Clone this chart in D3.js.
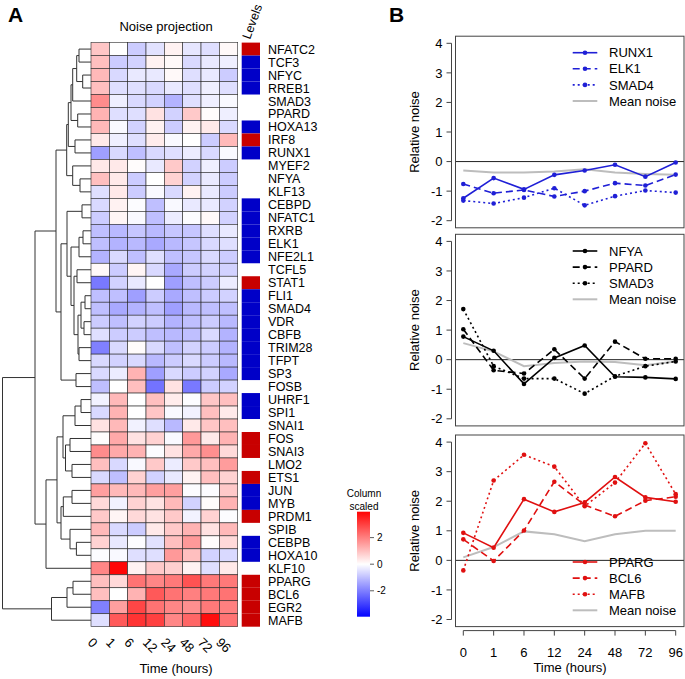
<!DOCTYPE html>
<html><head><meta charset="utf-8">
<script src="https://cdn.jsdelivr.net/npm/d3@7"></script>
<style>body{margin:0;background:#fff} svg{display:block} text{font-family:"Liberation Sans",Arial,Helvetica,sans-serif}</style>
</head><body><svg id="c" width="685" height="679"></svg>
<script>
// ---------------- DATA ----------------
const genes = ["NFATC2","TCF3","NFYC","RREB1","SMAD3","PPARD","HOXA13","IRF8","RUNX1","MYEF2","NFYA","KLF13","CEBPD","NFATC1","RXRB","ELK1","NFE2L1","TCFL5","STAT1","FLI1","SMAD4","VDR","CBFB","TRIM28","TFPT","SP3","FOSB","UHRF1","SPI1","SNAI1","FOS","SNAI3","LMO2","ETS1","JUN","MYB","PRDM1","SPIB","CEBPB","HOXA10","KLF10","PPARG","BCL6","EGR2","MAFB"];
const times = ["0","1","6","12","24","48","72","96"];
const levels = ["high","low","low","low","none","none","low","high","low","none","none","none","low","low","low","low","low","none","high","low","low","low","low","low","low","low","none","low","low","none","high","high","none","high","low","low","high","none","low","low","none","high","high","high","high"];
const noise = [
 [0.9,0,-0.8,-0.45,0.2,-0.4,-0.5,0.1],
 [1.0,-0.8,-0.7,0.2,0.1,-0.6,-0.35,-0.25],
 [1.1,-0.6,-0.35,-0.35,0.1,-0.5,-0.35,-0.8],
 [1.0,-0.5,-0.5,-0.6,-0.35,-0.5,-0.25,-0.5],
 [1.8,-0.25,-0.6,-0.7,-1.2,-0.5,-0.25,-0.1],
 [1.2,-0.5,-0.5,0.45,-0.7,0.85,0.05,-0.25],
 [1.1,-0.1,-0.7,0.2,-0.8,0.2,0.35,-0.6],
 [0.35,-0.25,-0.5,0.3,-0.1,0,-0.8,1.1],
 [-1.5,-0.6,-1.0,-0.6,-0.5,-0.3,-0.6,-0.1],
 [0.35,0.35,0.05,-0.35,0.85,-0.7,-0.25,-0.8],
 [1.0,0.35,-0.8,0,0.7,-0.7,-0.35,-0.8],
 [-0.5,0.35,-0.8,-0.1,-0.6,0.2,-0.35,-0.8],
 [-0.6,0.2,-0.05,-1.0,-0.1,-0.35,-0.35,-0.7],
 [-0.8,0.15,-0.1,-1.0,-0.3,-0.05,0.1,-0.7],
 [-1.0,-1.1,-0.9,-1.1,-0.9,-0.9,-0.5,-0.35],
 [-1.0,-1.2,-1.1,-1.35,-1.1,-0.9,-0.6,-0.5],
 [-1.2,-0.6,-1.0,-0.5,-1.0,-0.9,-0.6,-0.8],
 [0.1,-0.8,0.15,-0.6,-1.35,-0.8,-0.7,-0.7],
 [-2.1,-0.7,-0.35,0,-1.5,-1.0,-0.8,-0.3],
 [-1.0,-1.0,-1.5,-0.8,-1.35,-1.0,-0.8,-0.7],
 [-1.0,-1.35,-1.2,-1.0,-1.5,-1.1,-1.0,-1.0],
 [-0.8,-1.0,-0.7,-0.8,-1.2,-1.0,-0.8,-1.1],
 [-0.5,-0.8,-0.8,-1.0,-1.1,-1.0,-0.6,-1.2],
 [-2.0,-0.6,0.05,-0.6,-1.0,-0.7,-0.8,-1.2],
 [-0.6,-0.7,-0.6,-1.1,-0.8,-0.6,-0.8,-1.1],
 [-0.6,-0.3,1.2,-1.5,-0.6,-0.8,-0.7,-1.35],
 [-1.0,0,1.0,-2.2,0.45,-2.1,-0.8,-0.7],
 [-0.2,1.1,0,1.0,0.3,-0.05,0.9,1.0],
 [-0.6,1.2,0,0.9,-0.1,-0.2,1.0,0.35],
 [0.45,1.1,-0.2,-0.5,-1.1,0.35,0.9,1.0],
 [0.05,1.35,0.45,0.7,-0.1,1.6,0.35,1.2],
 [1.8,1.35,1.2,-0.05,0.45,1.35,1.75,0.6],
 [1.0,-0.6,-0.1,0.85,-0.3,0.85,1.0,1.55],
 [-0.6,-1.0,0.7,-0.7,-0.35,0.2,1.0,0.7],
 [1.5,1.1,1.1,1.5,1.5,-0.05,-0.05,0.85],
 [0.6,-0.2,0.7,0.45,1.1,-0.7,0.05,1.2],
 [0.85,0.15,0.6,0.45,0.85,-0.2,0.7,-0.05],
 [1.1,-0.6,-0.8,0.35,0.85,1.2,0.45,1.1],
 [0.7,-0.35,-0.05,-0.45,1.0,1.6,0.05,0.6],
 [-0.05,-0.1,-0.5,-0.5,1.6,1.0,-0.7,-0.6],
 [1.9,3.9,0.2,0.85,0.75,0.2,-0.5,0.35],
 [1.0,0.6,2.2,1.9,2.1,2.7,2.1,2.1],
 [1.0,0,1.2,2.6,2.2,2.0,2.1,2.2],
 [-2.0,1.5,2.9,2.2,1.9,1.75,2.1,2.0],
 [-0.5,2.6,3.2,3.0,1.9,2.4,3.8,2.2]
];
// dendrogram merge heights: [height, left, right]
const tree = [88.5,
  [56,
    [35,
      [24.3,
        [22.7,
          [20, [18.3, [14.3, [12,"NFATC2","TCF3"], [8.3,"NFYC","RREB1"]], "SMAD3"], [13.3,"PPARD","HOXA13"]],
          [16,"IRF8","RUNX1"]],
        [18.3,"MYEF2",[11,"NFYA","KLF13"]]],
      [30,
        [24, [9,"CEBPD","NFATC1"], [20, [12,[8,"RXRB","ELK1"],"NFE2L1"], [17,[14,"TCFL5","STAT1"],[13,[10,[6,"FLI1","SMAD4"],[7,"VDR","CBFB"]],[12,"TRIM28","TFPT"]]]]],
        [15,"SP3","FOSB"]]],
    [45,
      [34,
        [28,[16,[10,"UHRF1","SPI1"],"SNAI1"],[25.5,[21,"FOS","SNAI3"],[19,"LMO2","ETS1"]]],
        [30,[27.7,[19,"JUN","MYB"],"PRDM1"],[21,"SPIB",[14.6,"CEBPB","HOXA10"]]]],
      "KLF10"]],
  [39.5,[24,[18,"PPARG","BCL6"],"EGR2"],"MAFB"]];

const keyTicks = [-2,0,2];
const yTicks = [-2,-1,0,1,2,3,4];

const runx1 = [-1.24,-0.56,-0.94,-0.45,-0.30,-0.11,-0.51,-0.03];
const elk1  = [-0.76,-1.07,-0.96,-1.18,-1.00,-0.73,-0.81,-0.44];
const smad4 = [-1.32,-1.42,-1.22,-0.90,-1.48,-1.17,-0.98,-1.05];
const mean1 = [-0.30,-0.37,-0.37,-0.34,-0.26,-0.37,-0.42,-0.45];

const nfya  = [0.78,0.30,-0.82,0.06,0.48,-0.58,-0.60,-0.65];
const ppard = [1.03,-0.36,-0.47,0.35,-0.64,0.61,0.03,0.03];
const smad3 = [1.71,-0.22,-0.64,-0.64,-1.15,-0.56,-0.22,-0.06];
const mean2 = [0.56,0.28,-0.22,-0.11,-0.06,-0.08,-0.19,-0.06];

const pparg = [0.93,0.43,2.07,1.64,1.96,2.82,2.13,1.98];
const bcl6  = [0.71,-0.02,1.01,2.66,1.87,1.49,2.02,2.15];
const mafb  = [-0.34,2.70,3.57,3.17,1.83,2.63,3.96,2.24];
const mean3 = [0.10,0.45,0.98,0.88,0.65,0.88,1.00,1.00];

// ---------------- DRAW ----------------
const svg = d3.select("#c");
const FONT = 13, LFONT = 12.5;

// heatmap
const hx = d3.scaleBand().domain(times).range([91, 237.7]);
const hy = d3.scaleBand().domain(genes).range([42.6, 626.7]);
const col = d3.scaleLinear().domain([-4,0,4]).range(["#0000ff","#ffffff","#ff0000"]);

const gH = svg.append("g");
genes.forEach((g,i)=>{
  times.forEach((t,j)=>{
    gH.append("rect").attr("x",hx(t)).attr("y",hy(g))
      .attr("width",hx.bandwidth()).attr("height",hy.bandwidth())
      .attr("fill",col(noise[i][j])).attr("stroke","#2a2a2a").attr("stroke-width",0.6);
  });
});

// levels column
const lvlCol = {high:"#c80000", low:"#0000c8", none:"none"};
genes.forEach((g,i)=>{
  if(levels[i]!=="none")
    svg.append("rect").attr("x",241.7).attr("y",hy(g)).attr("width",18.3).attr("height",hy.bandwidth())
      .attr("fill",lvlCol[levels[i]]);
});

// row labels
genes.forEach(g=>{
  svg.append("text").attr("x",268).attr("y",hy(g)+hy.bandwidth()/2).attr("dy","0.36em")
    .attr("font-size",LFONT).text(g);
});

// column labels (rotated)
times.forEach(t=>{
  const cx = hx(t)+hx.bandwidth()/2 - 10, cy = 640;
  svg.append("text").attr("transform",`translate(${cx},${cy}) rotate(45)`)
    .attr("font-size",FONT).attr("dy","0.35em").text(t);
});
svg.append("text").attr("x",176).attr("y",673).attr("text-anchor","middle").attr("font-size",FONT).text("Time (hours)");
svg.append("text").attr("x",166).attr("y",31).attr("text-anchor","middle").attr("font-size",FONT).text("Noise projection");
svg.append("text").attr("transform","translate(250,40) rotate(-70)").attr("font-size",LFONT).text("Levels");

// dendrogram
const xd = d3.scaleLinear().domain([0,88.5]).range([91,2.5]);
const gD = svg.append("g").attr("fill","none").attr("stroke","#333").attr("stroke-width",1);
function drawNode(n){
  if(typeof n === "string") return {x: xd(0), y: hy(n)+hy.bandwidth()/2};
  const a = drawNode(n[1]), b = drawNode(n[2]);
  const x = xd(n[0]);
  gD.append("path").attr("d",`M${a.x},${a.y}H${x}V${b.y}H${b.x}`);
  return {x, y:(a.y+b.y)/2};
}
drawNode(tree);

// colour key
const ky = d3.scaleLinear().domain([-3.95,3.95]).range([616.7,511.7]);
const defs = svg.append("defs");
const grad = defs.append("linearGradient").attr("id","kg").attr("x1",0).attr("y1",1).attr("x2",0).attr("y2",0);
d3.range(0,1.0001,0.05).forEach(f=>{
  grad.append("stop").attr("offset",f).attr("stop-color",col(-3.95+7.9*f));
});
svg.append("rect").attr("x",357).attr("y",ky(3.95)).attr("width",13).attr("height",ky(-3.95)-ky(3.95)).attr("fill","url(#kg)");
keyTicks.forEach(v=>{
  svg.append("line").attr("x1",370).attr("x2",374).attr("y1",ky(v)).attr("y2",ky(v)).attr("stroke","#333").attr("stroke-width",0.8);
  svg.append("text").attr("x",377).attr("y",ky(v)).attr("dy","0.35em").attr("font-size",10).text(v);
});
svg.append("text").attr("x",364).attr("y",497).attr("text-anchor","middle").attr("font-size",10).text("Column");
svg.append("text").attr("x",364).attr("y",510).attr("text-anchor","middle").attr("font-size",10).text("scaled");

// panel letters
svg.append("text").attr("x",8).attr("y",22).attr("font-size",21).attr("font-weight","bold").text("A");
svg.append("text").attr("x",389).attr("y",22).attr("font-size",21).attr("font-weight","bold").text("B");

// line panels
const px = d3.scalePoint().domain(times).range([463.3,675.7]);
const panels = [
  {top:36.2, color:"#1f1fd6", series:[["RUNX1",runx1],["ELK1",elk1],["SMAD4",smad4]], mean:mean1, legendY:52.7},
  {top:234.3, color:"#000000", series:[["NFYA",nfya],["PPARD",ppard],["SMAD3",smad3]], mean:mean2, legendY:251},
  {top:435, color:"#e01010", series:[["PPARG",pparg],["BCL6",bcl6],["MAFB",mafb]], mean:mean3, legendY:562, xaxis:true}
];
const dashes = [null,"7,4","2,3"];
const PH = 191.6, BX0 = 455.5, BX1 = 684;
panels.forEach(p=>{
  const g = svg.append("g");
  const y = d3.scaleLinear().domain([-2,4]).range([p.top+PH-7.1, p.top+7.1]);
  g.append("line").attr("x1",BX0).attr("x2",BX1).attr("y1",y(0)).attr("y2",y(0)).attr("stroke","#222").attr("stroke-width",1);
  const line = d3.line().x((d,i)=>px(times[i])).y(d=>y(d));
  g.append("path").attr("d",line(p.mean)).attr("fill","none").attr("stroke","#bdbdbd").attr("stroke-width",2);
  p.series.forEach(([name,vals],k)=>{
    g.append("path").attr("d",line(vals)).attr("fill","none").attr("stroke",p.color).attr("stroke-width",1.6)
      .attr("stroke-dasharray",dashes[k]);
    vals.forEach((v,i)=>g.append("circle").attr("cx",px(times[i])).attr("cy",y(v)).attr("r",2.3).attr("fill",p.color));
  });
  g.append("rect").attr("x",BX0).attr("y",p.top).attr("width",BX1-BX0).attr("height",PH)
    .attr("fill","none").attr("stroke","#444").attr("stroke-width",1);
  const ax = BX0-4;
  g.append("line").attr("x1",ax).attr("x2",ax).attr("y1",y(-2)).attr("y2",y(4)).attr("stroke","#444");
  yTicks.forEach(v=>{
    g.append("line").attr("x1",ax).attr("x2",ax-5).attr("y1",y(v)).attr("y2",y(v)).attr("stroke","#444");
    g.append("text").attr("x",ax-9).attr("y",y(v)).attr("dy","0.36em").attr("text-anchor","end").attr("font-size",FONT).text(v);
  });
  g.append("text").attr("transform",`translate(419,${p.top+PH/2}) rotate(-90)`).attr("text-anchor","middle")
    .attr("font-size",FONT).text("Relative noise");
  const items = p.series.map((s,k)=>({name:s[0],color:p.color,dash:dashes[k],pt:true}))
    .concat([{name:"Mean noise",color:"#bdbdbd",dash:null,pt:false,w:2}]);
  items.forEach((it,k)=>{
    const ly = p.legendY + k*16.1;
    g.append("line").attr("x1",572.7).attr("x2",597.3).attr("y1",ly).attr("y2",ly)
      .attr("stroke",it.color).attr("stroke-width",it.w||1.6).attr("stroke-dasharray",it.dash);
    if(it.pt) g.append("circle").attr("cx",585).attr("cy",ly).attr("r",2.3).attr("fill",it.color);
    g.append("text").attr("x",609).attr("y",ly).attr("dy","0.36em").attr("font-size",FONT).text(it.name);
  });
  if(p.xaxis){
    const ay = p.top+PH+4;
    g.append("line").attr("x1",px(times[0])).attr("x2",px(times[7])).attr("y1",ay).attr("y2",ay).attr("stroke","#444");
    times.forEach(t=>{
      g.append("line").attr("x1",px(t)).attr("x2",px(t)).attr("y1",ay).attr("y2",ay+5).attr("stroke","#444");
      g.append("text").attr("x",px(t)).attr("y",652).attr("dy","0.36em").attr("text-anchor","middle").attr("font-size",FONT).text(t);
    });
    g.append("text").attr("x",570).attr("y",672).attr("text-anchor","middle").attr("font-size",FONT).text("Time (hours)");
  }
});
</script></body></html>
